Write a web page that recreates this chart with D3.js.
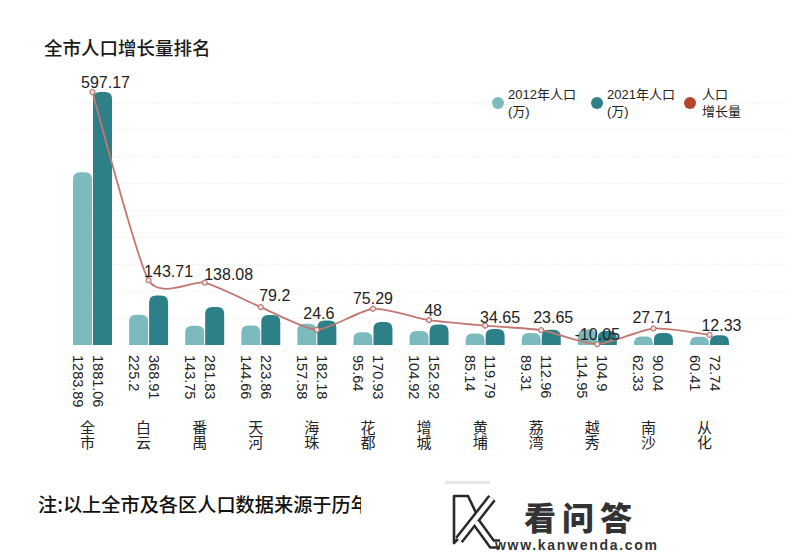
<!DOCTYPE html>
<html><head><meta charset="utf-8">
<script src="https://cdn.jsdelivr.net/npm/d3@7"></script>
<style>
html,body{margin:0;padding:0;background:#fff;}
svg{display:block;}
text{font-family:"Liberation Sans",Arial,sans-serif;}
.cjk{font-family:"Noto Sans CJK SC","Noto Sans",sans-serif;}
.leg{font-family:"Liberation Sans","Noto Sans CJK SC",sans-serif;}
.vert{writing-mode:vertical-rl;text-orientation:upright;}
</style></head>
<body>
<svg id="chart" width="800" height="558"></svg>
<script>
const categories = ['全市','白云','番禺','天河','海珠','花都','增城','黄埔','荔湾','越秀','南沙','从化'];
const pop2012 = [1283.89,225.2,143.75,144.66,157.58,95.64,104.92,85.14,89.31,114.95,62.33,60.41];
const pop2021 = [1881.06,368.91,281.83,223.86,182.18,170.93,152.92,119.79,112.96,104.9,90.04,72.74];
const growth = [597.17,143.71,138.08,79.2,24.6,75.29,48,34.65,23.65,-10.05,27.71,12.33];
const seriesNames = ['2012年人口(万)','2021年人口(万)','人口增长量'];
const gridValues = [200,400,600,800,1000,1200,1400,1600,1800];

// layout nudges for growth labels (hand-placed in the original)
const labelDx = [13,20,24,14,2,0,4,15,12,0,-1,12];
const labelDy = [-4,-3,-3,-6,-11,-5,-4,-3,-7,-4,-5,-4];

const svg = d3.select('#chart');
const C1 = '#7dbabe', C2 = '#2d8088', CL = '#c27770', CR = '#b5442c';

const x = d3.scalePoint().domain(categories).range([92.5, 709.5]);
const xs = d3.scaleBand().domain(['a','b']).range([-19.5,19.5]).paddingInner(0.05);
const y = d3.scaleLinear().domain([0, 1881.06]).range([345, 92]);
const yL = d3.scaleLinear().domain([0, 597.17]).range([340, 92]);

// title
svg.append('text').attr('class','cjk').attr('x',44).attr('y',55)
  .attr('font-size',18.5).attr('font-weight',500).attr('fill','#1a1a1a').text('全市人口增长量排名');

// faint gridlines
svg.append('g').selectAll('line').data(gridValues).join('line')
  .attr('x1',82).attr('x2',785).attr('y1',d=>y(d)).attr('y2',d=>y(d))
  .attr('stroke','#f0f0f0').attr('stroke-width',1).attr('stroke-dasharray','3,2');

function topRound(x0,y0,w,h,r){
  r = Math.min(r, h, w/2);
  return `M${x0},${y0+h}V${y0+r}Q${x0},${y0} ${x0+r},${y0}H${x0+w-r}Q${x0+w},${y0} ${x0+w},${y0+r}V${y0+h}Z`;
}

const groups = svg.append('g').selectAll('g').data(categories).join('g')
  .attr('transform',d=>`translate(${x(d)},0)`);

groups.append('path').attr('fill',C1)
  .attr('d',(d,i)=>topRound(xs('a'), y(pop2012[i]), xs.bandwidth(), y(0)-y(pop2012[i]), 7));
groups.append('path').attr('fill',C2)
  .attr('d',(d,i)=>topRound(xs('b'), y(pop2021[i]), xs.bandwidth(), y(0)-y(pop2021[i]), 7));

// rotated value labels
[[pop2012,'a'],[pop2021,'b']].forEach(([arr,k])=>{
  groups.append('text')
    .attr('transform',()=>`translate(${xs(k)+xs.bandwidth()/2-5},355) rotate(90)`)
    .attr('dominant-baseline','central')
    .attr('font-size',14.5).attr('fill','#222')
    .text((d,i)=>arr[i]);
});

// category labels (vertical)
groups.append('text').attr('class','cjk vert')
  .attr('x',-5).attr('y',420)
  .attr('font-size',15).attr('fill','#222').text(d=>d);

// growth line
const line = d3.line().x((d,i)=>x(categories[i])).y(d=>yL(d)).curve(d3.curveCardinal.tension(0.4));
svg.append('path').datum(growth).attr('d',line)
  .attr('fill','none').attr('stroke',CL).attr('stroke-width',1.8);
svg.append('g').selectAll('circle').data(growth).join('circle')
  .attr('cx',(d,i)=>x(categories[i])).attr('cy',d=>yL(d)).attr('r',2.6)
  .attr('fill','#eadada').attr('stroke','#b0625c').attr('stroke-width',1);
svg.append('g').selectAll('text').data(growth).join('text')
  .attr('x',(d,i)=>x(categories[i])+labelDx[i]).attr('y',(d,i)=>yL(d)+labelDy[i])
  .attr('text-anchor','middle').attr('font-size',16).attr('fill','#222')
  .text(d=>d);

// legend
const legX = [498,597,690], legC = [C1,C2,CR];
const legLines = [['2012年人口','(万)'],['2021年人口','(万)'],['人口','增长量']];
legX.forEach((lx,i)=>{
  svg.append('circle').attr('cx',lx).attr('cy',103).attr('r',6).attr('fill',legC[i]);
  const t = svg.append('text').attr('class','leg').attr('x',lx+(i==2?12:10)).attr('y',99)
    .attr('font-size',13).attr('fill','#222');
  legLines[i].forEach((s,j)=>{
    t.append('tspan').attr('x',lx+(i==2?12:10)).attr('dy',j?17:0).text(s);
  });
});

// footnote (cut off)
svg.append('clipPath').attr('id','fnclip').append('rect').attr('x',0).attr('y',470).attr('width',361).attr('height',80);
svg.append('text').attr('class','cjk').attr('clip-path','url(#fnclip)')
  .attr('x',38).attr('y',512).attr('font-size',19.2).attr('font-weight',500).attr('fill','#111')
  .text('注:以上全市及各区人口数据来源于历年统计年鉴');

// watermark
const wm = svg.append('g');
wm.append('rect').attr('x',445).attr('y',481).attr('width',45).attr('height',3).attr('fill','#e6e6e6');
// left wedge outline
wm.append('path').attr('d','M454,496 L468,496 L478,517 L471,525 L454,543 Z')
  .attr('fill','#fff').attr('stroke','#2a2a2a').attr('stroke-width',2.6).attr('stroke-linejoin','round');
const kPaths = ['M492,498 L459,540','M476,522 L492,544 L500,544'];
kPaths.forEach(p=>{
  wm.append('path').attr('d',p).attr('fill','none').attr('stroke','#2a2a2a').attr('stroke-width',9.5).attr('stroke-linecap','butt');
});
kPaths.forEach(p=>{
  wm.append('path').attr('d',p).attr('fill','none').attr('stroke','#fff').attr('stroke-width',4.5).attr('stroke-linecap','butt');
});
wm.append('text').attr('class','cjk').attr('x',524).attr('y',530).attr('font-size',32).attr('font-weight',900)
  .attr('fill','#333').attr('textLength',108).text('看问答');
wm.append('text').attr('x',495).attr('y',550).attr('font-size',14).attr('font-weight',700)
  .attr('fill','#333').attr('textLength',162).text('www.kanwenda.com');
</script>
</body></html>
